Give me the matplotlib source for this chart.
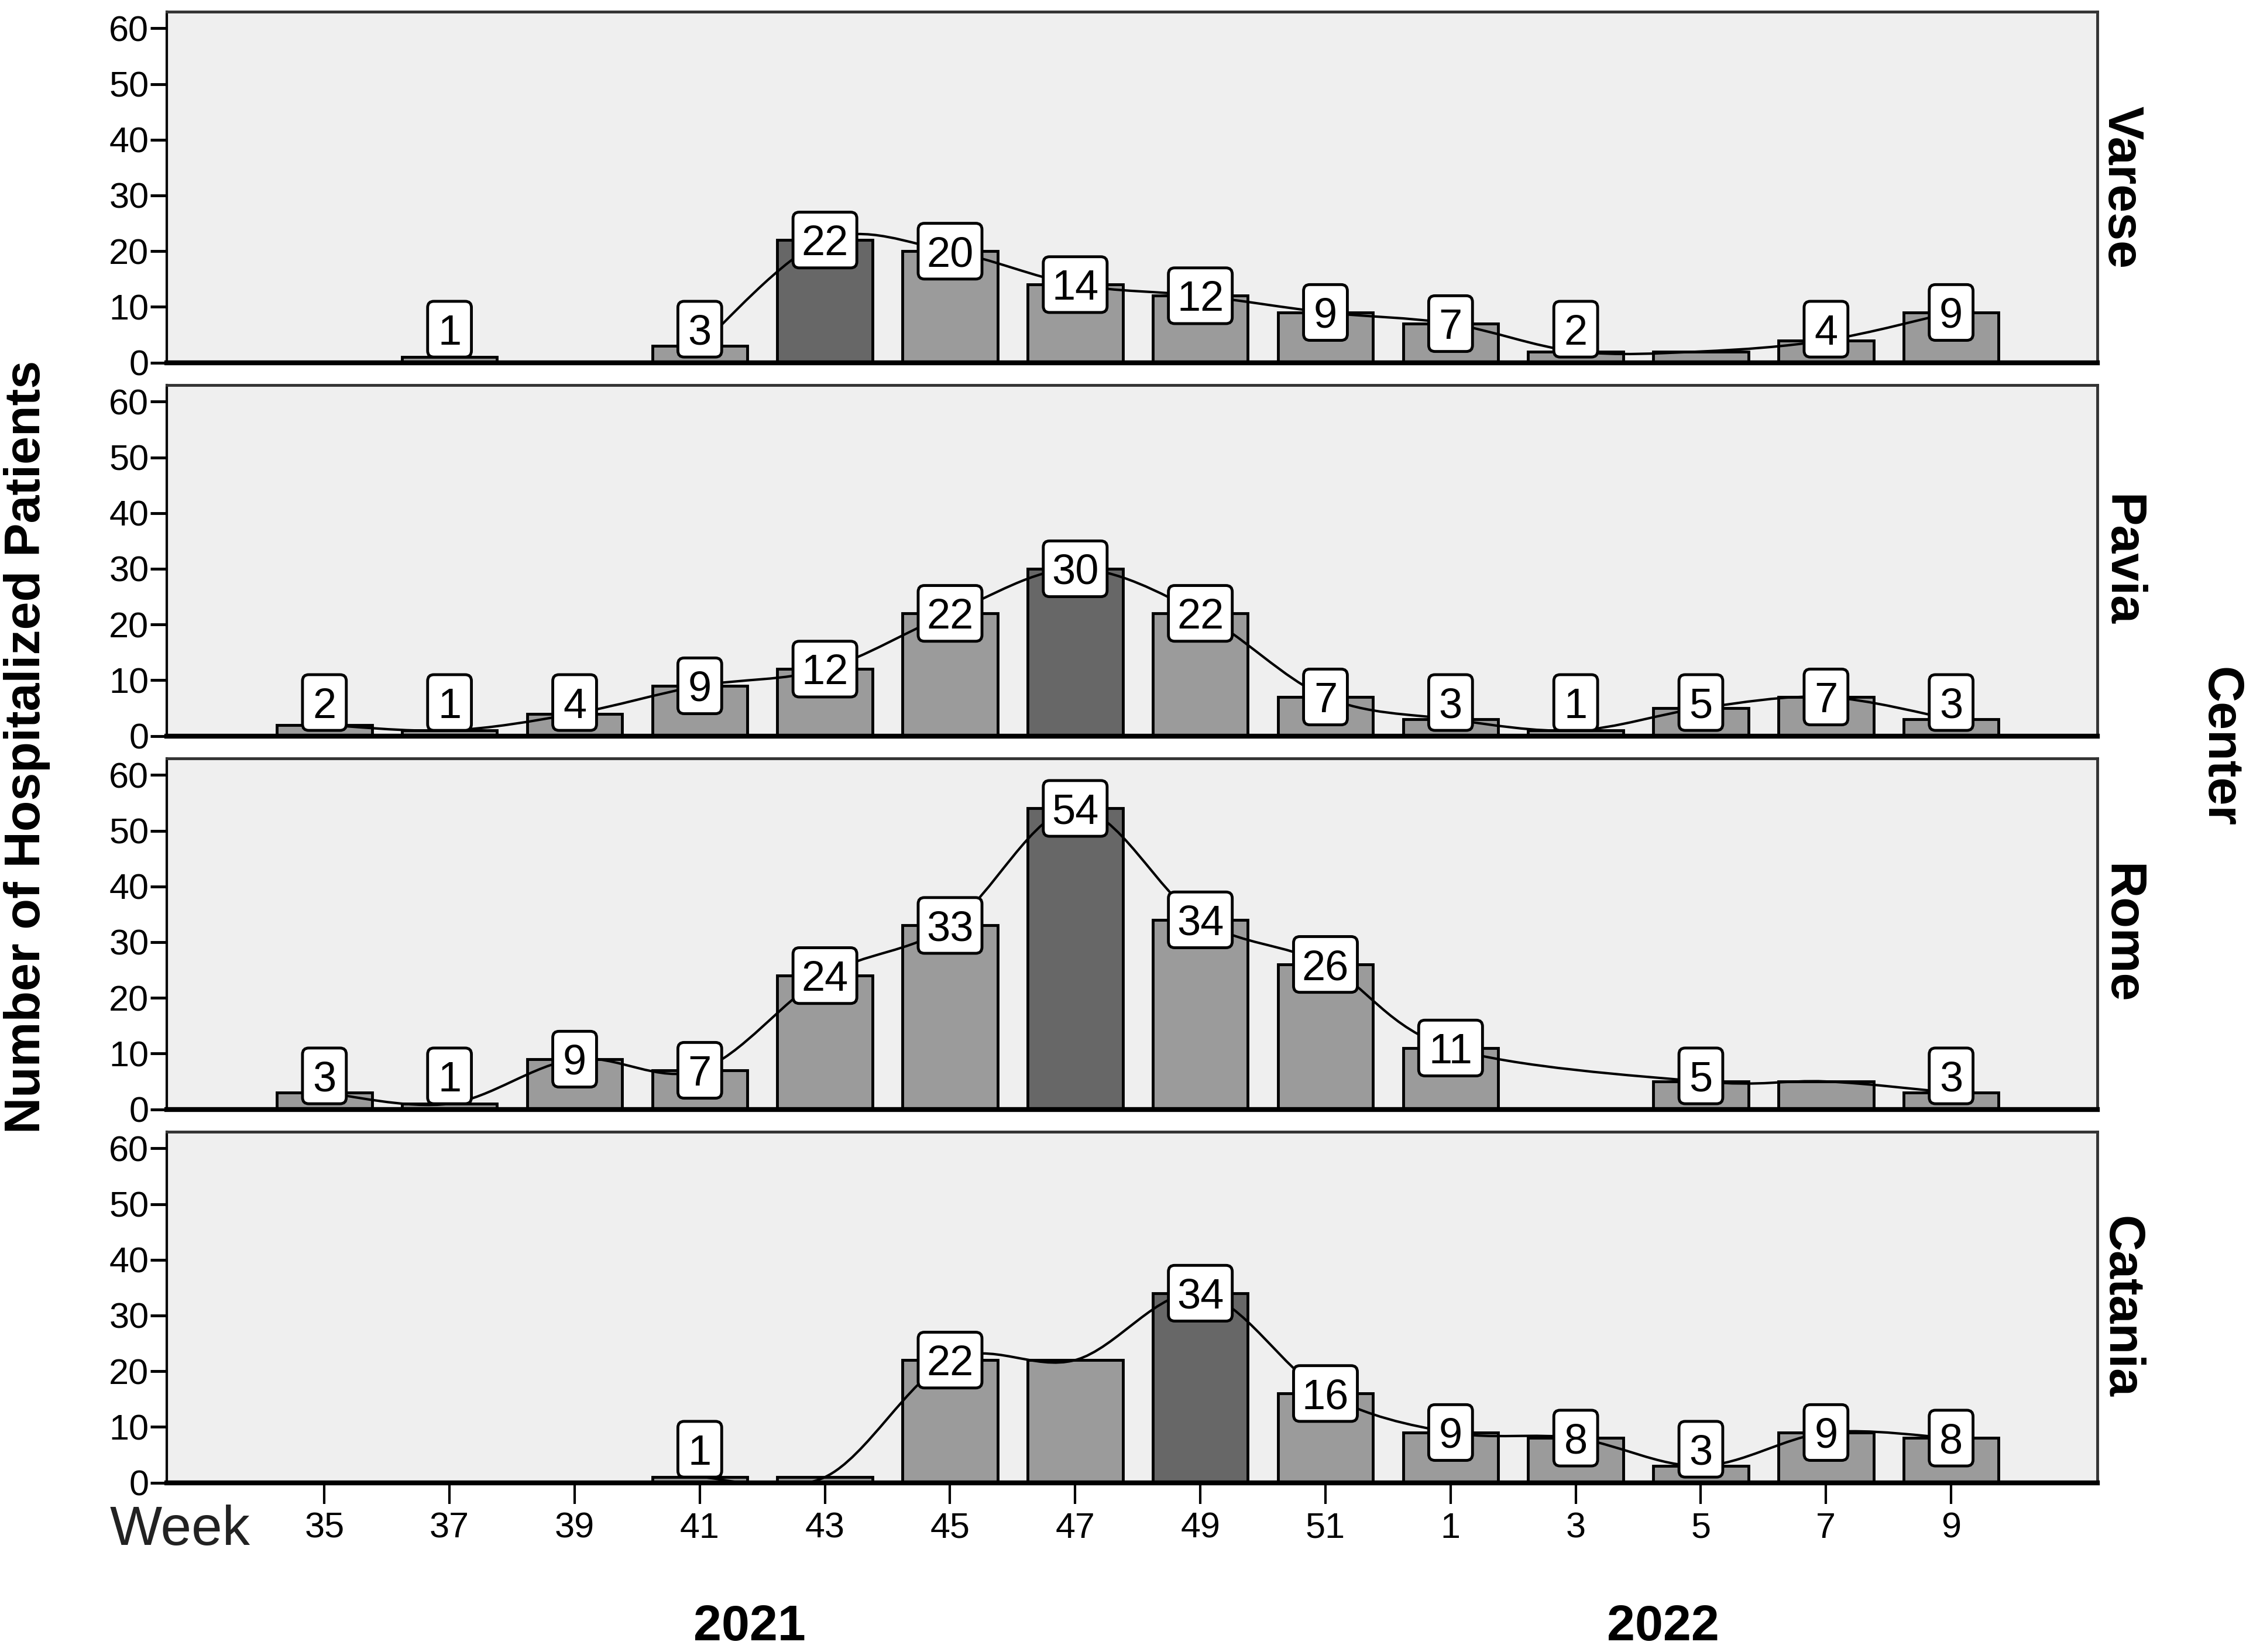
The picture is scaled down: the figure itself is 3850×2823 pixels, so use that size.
import numpy as np
import matplotlib
matplotlib.use("Agg")
import matplotlib.pyplot as plt
from matplotlib.path import Path
from matplotlib.patches import PathPatch, FancyBboxPatch
from matplotlib.transforms import blended_transform_factory

plt.rcParams['font.family'] = ['Liberation Sans', 'DejaVu Sans']

# week bins (2-week steps), 2021 then 2022
weeks = ['35', '37', '39', '41', '43', '45', '47', '49', '51', '1', '3', '5', '7', '9']
centers = ['Varese', 'Pavia', 'Rome', 'Catania']

# number of hospitalized patients per bin (None = no category in data)
varese = [0, 1, 0, 3, 22, 20, 14, 12, 9, 7, 2, 2, 4, 9]
pavia = [2, 1, 4, 9, 12, 22, 30, 22, 7, 3, 1, 5, 7, 3]
rome = [3, 1, 9, 7, 24, 33, 54, 34, 26, 11, None, 5, 5, 3]
catania = [0, 0, 0, 1, 1, 22, 22, 34, 16, 9, 8, 3, 9, 8]

# bins whose value label is not shown in the original
varese_nolabel = [11]
pavia_nolabel = []
rome_nolabel = [12]
catania_nolabel = [4, 6]

years = ['2021', '2022']

series = [varese, pavia, rome, catania]
nolabels = [varese_nolabel, pavia_nolabel, rome_nolabel, catania_nolabel]

BAR = '#9b9b9b'
PEAK = '#676767'
BG = '#efefef'


def smooth_path(pts):
    # Catmull-Rom style bezier through the points
    verts = [pts[0]]
    codes = [Path.MOVETO]
    n = len(pts)
    for i in range(n - 1):
        p0 = pts[max(i - 1, 0)]
        p1 = pts[i]
        p2 = pts[i + 1]
        p3 = pts[min(i + 2, n - 1)]
        c1 = (p1[0] + (p2[0] - p0[0]) / 6, p1[1] + (p2[1] - p0[1]) / 6)
        c2 = (p2[0] - (p3[0] - p1[0]) / 6, p2[1] - (p3[1] - p1[1]) / 6)
        verts += [c1, c2, p2]
        codes += [Path.CURVE4] * 3
    return Path(verts, codes)


fig = plt.figure(figsize=(38.5, 28.23), dpi=100)
lefts = 0.074
width = 0.857
height = 0.2125
bottoms = [0.7805, 0.5545, 0.3285, 0.1025]
XLIM = (-1.26, 14.17)
YLIM = (0, 63)

x = np.arange(len(weeks))
axes = []
for k, (name, vals, nol) in enumerate(zip(centers, series, nolabels)):
    ax = fig.add_axes([lefts, bottoms[k], width, height])
    axes.append(ax)
    ax.set_facecolor(BG)
    v = np.array([np.nan if a is None else a for a in vals], dtype=float)
    peak = np.nanargmax(v)
    cols = [PEAK if i == peak else BAR for i in range(len(v))]
    vb = np.nan_to_num(v)
    ax.bar(x, vb, width=0.76, color=cols, edgecolor='black', linewidth=3.5, zorder=2)

    # smooth line through consecutive non-zero bins (missing bins are bridged)
    run = []
    for i, a in enumerate(v):
        if np.isnan(a):
            continue
        if a == 0:
            if len(run) > 1:
                ax.add_patch(PathPatch(smooth_path(run), fc='none', ec='black', lw=3, zorder=3))
            run = []
            continue
        run.append((x[i], a))
    if len(run) > 1:
        ax.add_patch(PathPatch(smooth_path(run), fc='none', ec='black', lw=3, zorder=3))

    # aspect so box rounding looks the same in x and y
    px_x = width * 38.5 / (XLIM[1] - XLIM[0])
    px_y = height * 28.23 / (YLIM[1] - YLIM[0])
    for i, a in enumerate(v):
        if np.isnan(a) or a == 0 or i in nol:
            continue
        lab = '%d' % a
        bw = 0.35 if len(lab) == 1 else 0.51
        bh = 10.0
        yc = max(a, 6.0)
        box = FancyBboxPatch((x[i] - bw / 2, yc - bh / 2), bw, bh,
                             boxstyle='round,pad=0,rounding_size=0.05',
                             mutation_aspect=px_x / px_y,
                             fc='white', ec='black', lw=3.5, zorder=4)
        ax.add_patch(box)
        ax.text(x[i], yc, lab, ha='center', va='center_baseline',
                fontsize=52, zorder=5)

    ax.set_xlim(*XLIM)
    ax.set_ylim(*YLIM)
    ax.set_yticks([0, 10, 20, 30, 40, 50, 60])
    ax.tick_params(axis='y', length=20, width=3.5, pad=2, labelsize=44)
    for s in ['top', 'right']:
        ax.spines[s].set_linewidth(3.5)
        ax.spines[s].set_color('#333333')
    ax.spines['left'].set_linewidth(3)
    ax.spines['bottom'].set_linewidth(6)
    ax.text(1.012, 0.5, name, transform=ax.transAxes, rotation=270,
            ha='center', va='center', fontsize=62, fontweight='bold')
    if k < 3:
        ax.set_xticks([])
    else:
        ax.set_xticks(x)
        ax.set_xticklabels(weeks)
        ax.tick_params(axis='x', length=26, width=3, pad=10, labelsize=44)

fig.text(0.080, 0.0735, 'Week', ha='center', va='center', fontsize=68, color='#222222')
fig.text(0.012, 0.548, 'Number of Hospitalized Patients', rotation=90,
         ha='center', va='center', fontsize=62, fontweight='bold')
fig.text(0.985, 0.548, 'Center', rotation=270,
         ha='center', va='center', fontsize=62, fontweight='bold')

bot = axes[-1]
trans = blended_transform_factory(bot.transData, fig.transFigure)
for yr, xp in zip(years, [3.4, 10.7]):
    bot.text(xp, 0.015, yr, transform=trans,
             ha='center', va='center', fontsize=62, fontweight='bold')

fig.savefig('out.png', dpi=100, facecolor='white')
